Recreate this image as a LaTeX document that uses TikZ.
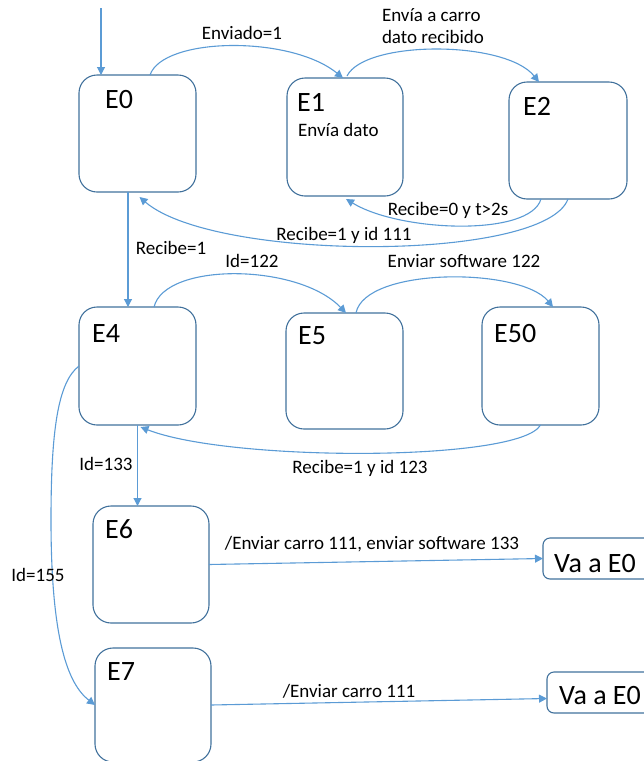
\documentclass[tikz,border=0pt]{standalone}
\usepackage{fontspec}
\setmainfont{Carlito}
\usetikzlibrary{arrows.meta,calc}
\definecolor{boxline}{HTML}{41719C}
\definecolor{wire}{HTML}{5B9BD5}
\tikzset{
  statebox/.style n args={2}{draw=boxline, line width=1.1pt, rounded corners=18pt,
    minimum width=#1, minimum height=#2, inner sep=0pt, outer sep=0pt, anchor=north west},
  gotobox/.style n args={2}{draw=boxline, line width=1.1pt, rounded corners=7pt,
    minimum width=#1, minimum height=#2, inner sep=0pt, outer sep=0pt, anchor=north west},
  title/.style={font=\fontsize{28}{31}\selectfont, inner sep=0pt, anchor=base west},
  lbl/.style={font=\fontsize{19}{22}\selectfont, inner sep=0pt, anchor=base},
  link/.style={draw=wire, line width=1.1pt, -{Triangle[length=8pt,width=8pt]}}
}
\begin{document}
\begin{tikzpicture}[x=1pt, y=-1pt]
  \useasboundingbox (0,0) rectangle (644,761);
  \clip (0,0) rectangle (644,761);

  % state boxes
  \node[statebox={117pt}{117pt}] (E0)  at (79,75)   {};
  \node[statebox={116pt}{118pt}] (E1)  at (287,78)  {};
  \node[statebox={118pt}{117pt}] (E2)  at (509,82)  {};
  \node[statebox={117pt}{118pt}] (E4)  at (79,307)  {};
  \node[statebox={117pt}{116pt}] (E5)  at (286,313) {};
  \node[statebox={117pt}{118pt}] (E50) at (482,307) {};
  \node[statebox={116pt}{117pt}] (E6)  at (93,506)  {};
  \node[statebox={116pt}{114pt}] (E7)  at (95,648)  {};
  \node[gotobox={130pt}{41pt}] (VaA) at (543,538) {};
  \node[gotobox={130pt}{41pt}] (VaB) at (547,672) {};

  % state names
  \node[title] (E0t)  at ($(E0.north west)+(26,33)$)  {E0};
  \node[title] (E1t)  at ($(E1.north west)+(10,33)$)  {E1};
  \node[font=\fontsize{19}{22}\selectfont, inner sep=0pt, anchor=base west] (E1d)
        at ($(E1.north west)+(11,58)$) {Envía dato};
  \node[title] (E2t)  at ($(E2.north west)+(14,33)$)  {E2};
  \node[title] (E4t)  at ($(E4.north west)+(13,35)$)  {E4};
  \node[title] (E5t)  at ($(E5.north west)+(12,31)$)  {E5};
  \node[title] (E50t) at ($(E50.north west)+(12,35)$) {E50};
  \node[title] (E6t)  at ($(E6.north west)+(12,32)$)  {E6};
  \node[title] (E7t)  at ($(E7.north west)+(12,32)$)  {E7};
  \node[title] (VaAt) at ($(VaA.north west)+(11,34)$) {Va a E0};
  \node[title] (VaBt) at ($(VaB.north west)+(12,32)$) {Va a E0};

  % initial transition
  \coordinate (init) at (101,8);
  \draw[link] (init) -- ($(E0.north west)+(22,0)$);

  % upper row
  \draw[link] ($(E0.north west)+(71,0)$) .. controls (163,37) and (290,35) .. ($(E1.north west)+(56,0)$);
  \draw[link] ($(E1.north west)+(60,-2)$) .. controls (365,40) and (505,40) .. ($(E2.north west)+(30,0)$);
  \draw[link] ($(E2.south west)+(32,0)$) .. controls (530,237) and (400,232) .. ($(E1.south)+(1,3)$);
  \draw[link] (E2.south) .. controls (545,262) and (215,262) .. ($(E0.south)+(2,5)$);
  \draw[link] ($(E0.south west)+(49,0)$) -- ($(E4.north west)+(49,0)$);

  % middle row
  \draw[link] ($(E4.north west)+(75,0)$) .. controls (165,262) and (298,263) .. ($(E5.north west)+(60,0)$);
  \draw[link] ($(E5.north west)+(70,0)$) .. controls (365,267) and (520,267) .. ($(E50.north west)+(71,0)$);
  \draw[link] (E50.south) .. controls (520,462) and (230,462) .. ($(E4.south)+(3,2)$);
  \draw[link] (E4.south) -- (E4.south |- E6.north);
  \draw[link] (E4.west) .. controls (58,382) and (51,430) .. (51,520)
              .. controls (51,640) and (68,684) .. (E7.west);

  % exits
  \draw[link] (E6.east) -- (VaA.west);
  \draw[link] (E7.east) -- ($(VaB.west)+(0,6)$);

  % transition labels
  \node[lbl] (l1) at (242,39) {Enviado=1};
  \node[font=\fontsize{19}{22}\selectfont, inner sep=0pt, align=left] (l2) at (433,26)
        {Envía a carro\\dato recibido};
  \node[lbl] (l3)  at (448,215) {Recibe=0 y t>2s};
  \node[lbl] (l4)  at (344,240) {Recibe=1 y id 111};
  \node[lbl] (l5)  at (171,254) {Recibe=1};
  \node[lbl] (l6)  at (252,267) {Id=122};
  \node[lbl] (l7)  at (464,267) {Enviar software 122};
  \node[lbl] (l8)  at (360,473) {Recibe=1 y id 123};
  \node[lbl] (l9)  at (106,470) {Id=133};
  \node[lbl] (l10) at (38,581)  {Id=155};
  \node[lbl] (l11) at (372,549) {/Enviar carro 111, enviar software 133};
  \node[lbl] (l12) at (349,697) {/Enviar carro 111};
\end{tikzpicture}
\end{document}
